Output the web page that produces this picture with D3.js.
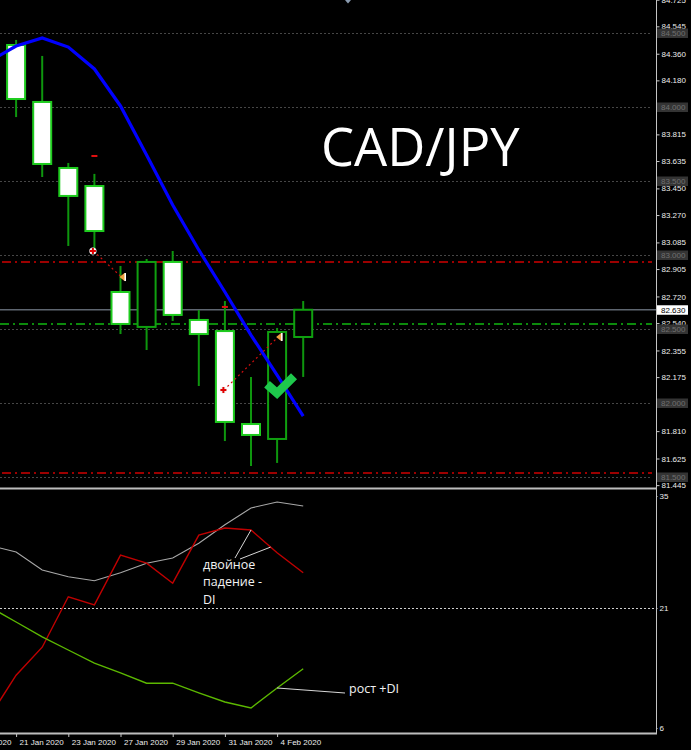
<!DOCTYPE html>
<html lang="en">
  <head>
    <meta charset="UTF-8" />
    <title>CAD/JPY</title>
    <script src="https://d3js.org/d3.v7.min.js"></script>
    <style>
      html, body { margin: 0; padding: 0; background: #000; }
      svg { display: block; }
      .axis text { font-family: "Liberation Sans", Arial, sans-serif; font-size: 8px; fill: #ececec; }
      .axis line { stroke: #c8c8c8; }
      .axis path { display: none; }
    </style>
  </head>
  <body>
    <div id="chart"></div>
    <script>
      // daily bars, 20 Jan 2020 .. 5 Feb 2020 (20 Jan only feeds the lines)
      var dates = ["2020-01-20", "2020-01-21", "2020-01-22", "2020-01-23", "2020-01-24", "2020-01-27",
        "2020-01-28", "2020-01-29", "2020-01-30", "2020-01-31", "2020-02-03", "2020-02-04", "2020-02-05"];
      var open  = [null, 84.419, 84.034, 83.588, 83.466, 82.750, 82.514, 82.953, 82.561, 82.486, 81.858, 81.757, 82.446];
      var high  = [null, 84.453, 84.345, 83.622, 83.548, 82.926, 82.973, 83.027, 82.628, 82.689, 82.176, 82.507, 82.689];
      var low   = [null, 83.932, 83.527, 83.061, 83.027, 82.466, 82.358, 82.554, 82.115, 81.743, 81.574, 81.595, 82.176];
      var close = [null, 84.054, 83.615, 83.399, 83.162, 82.534, 82.953, 82.595, 82.466, 81.872, 81.784, 82.480, 82.630];
      var maLine = [84.311, 84.412, 84.466, 84.405, 84.257, 84.007, 83.676, 83.338, 83.034, 82.750, 82.459, 82.189, 81.912];

      // ADX pane
      var adxMain = [28.8, 28.0, 25.75, 24.9, 24.4, 25.4, 26.6, 27.25, 29.1, 31.4, 33.5, 34.25, 33.75];
      var minusDI = [7.5, 12.6, 16.1, 22.4, 21.4, 27.6, 26.6, 24.1, 30.1, 31.0, 30.75, 27.9, 25.4];
      var plusDI  = [21.1, 19.25, 17.4, 15.75, 14.1, 12.9, 11.6, 11.6, 10.4, 9.25, 8.5, 11.0, 13.4];

      var priceTicks = [84.725, 84.545, 84.360, 84.180, 84.000, 83.815, 83.635, 83.450, 83.270, 83.085,
        82.905, 82.720, 82.540, 82.355, 82.175, 81.990, 81.810, 81.625, 81.445];
      var roundLevels = [84.5, 84.0, 83.5, 83.0, 82.5, 82.0, 81.5];
      var redLevels = [82.953, 81.527];
      var greenLevels = [82.534];
      var lastPrice = 82.630;
      var adxTicks = [35, 21, 6];
      var adxLevel = 21;

      var dateTickIdx = [-1, 1, 3, 5, 7, 9, 11];
      var dateTickText = ["17 Jan 2020", "21 Jan 2020", "23 Jan 2020", "27 Jan 2020", "29 Jan 2020", "31 Jan 2020", "4 Feb 2020"];

      // closed trades: entry / exit
      var trades = [
        { i0: 4, p0: 83.027, i1: 5, p1: 82.851 },
        { i0: 9, p0: 82.088, i1: 11, p1: 82.446 }
      ];
      var stopMarks = [{ i: 4, p: 83.669 }, { i: 9, p: 82.649 }];

      var width = 691, height = 750, plotRight = 656;

      var svg = d3.select("#chart").append("svg")
        .attr("width", width).attr("height", height);

      var defs = svg.append("defs");
      defs.append("clipPath").attr("id", "clipPrice")
        .append("rect").attr("x", 0).attr("y", 0).attr("width", plotRight).attr("height", 487);
      defs.append("clipPath").attr("id", "clipInd")
        .append("rect").attr("x", 0).attr("y", 490).attr("width", plotRight).attr("height", 243);

      var x = d3.scaleLinear().domain([0, 12]).range([-10, -10 + 12 * 26.1]);
      var y = d3.scaleLinear().domain([84.5, 81.5]).range([33, 477]);
      var yi = d3.scaleLinear().domain([35, 6]).range([496, 728]);

      var price = svg.append("g").attr("clip-path", "url(#clipPrice)");

      // grid levels
      price.selectAll("line.level").data(roundLevels).enter().append("line")
        .attr("x1", 0).attr("x2", plotRight - 4)
        .attr("y1", function (d) { return y(d) + 0.5; }).attr("y2", function (d) { return y(d) + 0.5; })
        .attr("stroke", "#464646").attr("stroke-dasharray", "2,2");

      price.selectAll("line.red").data(redLevels).enter().append("line")
        .attr("x1", 2).attr("x2", plotRight - 4)
        .attr("y1", function (d) { return y(d); }).attr("y2", function (d) { return y(d); })
        .attr("stroke", "#d00000").attr("stroke-width", 1.5).attr("stroke-dasharray", "9,4,2,4");

      price.selectAll("line.green").data(greenLevels).enter().append("line")
        .attr("x1", 0).attr("x2", plotRight - 4)
        .attr("y1", function (d) { return y(d); }).attr("y2", function (d) { return y(d); })
        .attr("stroke", "#0c8a0c").attr("stroke-width", 2).attr("stroke-dasharray", "9,4,2,4");

      price.append("line")
        .attr("x1", 0).attr("x2", plotRight)
        .attr("y1", y(lastPrice)).attr("y2", y(lastPrice))
        .attr("stroke", "#5e6670").attr("stroke-width", 1.6);

      // candles
      var bars = dates.map(function (d, i) {
        return { i: i, o: open[i], h: high[i], l: low[i], c: close[i] };
      }).filter(function (d) { return d.o != null; });

      price.selectAll("line.wick").data(bars).enter().append("line")
        .attr("x1", function (d) { return x(d.i); }).attr("x2", function (d) { return x(d.i); })
        .attr("y1", function (d) { return y(d.h); }).attr("y2", function (d) { return y(d.l); })
        .attr("stroke", "#0e960e").attr("stroke-width", 2);

      price.selectAll("rect.body").data(bars).enter().append("rect")
        .attr("x", function (d) { return x(d.i) - 9; })
        .attr("width", 18)
        .attr("y", function (d) { return y(Math.max(d.o, d.c)); })
        .attr("height", function (d) { return Math.max(1, Math.abs(y(d.o) - y(d.c))); })
        .attr("fill", function (d) { return d.c < d.o ? "#ffffff" : "#000000"; })
        .attr("stroke", function (d) { return d.c < d.o ? "#1ecc1e" : "#10a010"; })
        .attr("stroke-width", 2);

      // moving average
      price.append("path")
        .datum(maLine)
        .attr("fill", "none")
        .attr("stroke", "#0000ff")
        .attr("stroke-width", 3.2)
        .attr("d", d3.line().x(function (d, i) { return x(i); }).y(function (d) { return y(d); }));

      // trade history
      price.selectAll("line.trade").data(trades).enter().append("line")
        .attr("x1", function (d) { return x(d.i0) - 1; }).attr("y1", function (d) { return y(d.p0); })
        .attr("x2", function (d) { return x(d.i1) + 1; }).attr("y2", function (d) { return y(d.p1); })
        .attr("stroke", "#d01010").attr("stroke-width", 1.2).attr("stroke-dasharray", "2,3");

      price.selectAll("rect.stop").data(stopMarks).enter().append("rect")
        .attr("x", function (d) { return x(d.i) - 3; }).attr("y", function (d) { return y(d.p) - 1; })
        .attr("width", 6).attr("height", 2).attr("fill", "#e01010");

      var entry = price.selectAll("g.entry").data(trades).enter().append("g")
        .attr("transform", function (d) { return "translate(" + (x(d.i0) - 1.5) + "," + y(d.p0) + ")"; });
      entry.append("circle").attr("r", 3.6).attr("fill", "#f4f4f4");
      entry.append("path").attr("d", "M-3,0H3M0,-3V3").attr("stroke", "#e00000").attr("stroke-width", 2);

      var exitMark = price.selectAll("g.exit").data(trades).enter().append("g")
        .attr("transform", function (d) { return "translate(" + (x(d.i1) + 2) + "," + y(d.p1) + ")"; });
      exitMark.append("path").attr("d", "M-3,0L2,-4L3,-4L3,4L2,4Z").attr("fill", "#f0a040");
      exitMark.append("rect").attr("x", 2).attr("y", -4).attr("width", 1.5).attr("height", 8).attr("fill", "#ffffff");

      // check mark
      var chk = { i: 11.15, p: 82.12 };
      price.append("path")
        .attr("transform", "translate(" + x(chk.i) + "," + y(chk.p) + ")")
        .attr("d", "M-14,-1L-4,8L13,-9")
        .attr("fill", "none").attr("stroke", "#1ec84c").attr("stroke-width", 8.5)
        .attr("stroke-linejoin", "miter");

      price.append("text")
        .attr("x", 321).attr("y", 166)
        .attr("font-family", "'Open Sans', sans-serif").attr("font-size", 52.5)
        .attr("fill", "#ffffff")
        .text("CAD/JPY");

      // ADX pane
      var ind = svg.append("g").attr("clip-path", "url(#clipInd)");
      ind.append("line")
        .attr("x1", 0).attr("x2", plotRight)
        .attr("y1", yi(adxLevel) + 0.5).attr("y2", yi(adxLevel) + 0.5)
        .attr("stroke", "#cfcfcf").attr("stroke-dasharray", "2,2");

      var indLine = d3.line().x(function (d, i) { return x(i); }).y(function (d) { return yi(d); });
      [[adxMain, "#a8a8a8", 1.1], [minusDI, "#c00000", 1.4], [plusDI, "#5cb800", 1.4]].forEach(function (s) {
        ind.append("path").datum(s[0])
          .attr("fill", "none").attr("stroke", s[1]).attr("stroke-width", s[2])
          .attr("d", indLine);
      });

      // annotations
      var note = svg.append("g")
        .attr("font-family", "'Open Sans', sans-serif").attr("font-size", 12.5).attr("fill", "#f2f2f2");
      ["двойное", "падение -", "DI"].forEach(function (t, k) {
        note.append("text").attr("x", 203).attr("y", 568.5 + k * 17.5).text(t);
      });
      note.append("text").attr("x", 349).attr("y", 693).text("рост +DI");

      var pointers = [
        [[235, 558], [x(10), yi(minusDI[10])]],
        [[240, 559], [x(10.75), yi((minusDI[10] + 3 * minusDI[11]) / 4)]],
        [[x(11), yi(plusDI[11])], [345, 693]]
      ];
      pointers.forEach(function (p) {
        svg.append("line")
          .attr("x1", p[0][0]).attr("y1", p[0][1]).attr("x2", p[1][0]).attr("y2", p[1][1])
          .attr("stroke", "#d8d8d8").attr("stroke-width", 1);
      });

      // frame
      svg.append("line").attr("x1", plotRight + 0.5).attr("x2", plotRight + 0.5)
        .attr("y1", 0).attr("y2", 734).attr("stroke", "#c4c4c4");
      svg.append("line").attr("x1", 0).attr("x2", plotRight + 1)
        .attr("y1", 488.5).attr("y2", 488.5).attr("stroke", "#bdbdbd").attr("stroke-width", 2);
      svg.append("line").attr("x1", 0).attr("x2", plotRight + 1)
        .attr("y1", 733.5).attr("y2", 733.5).attr("stroke", "#bdbdbd").attr("stroke-width", 2);
      svg.append("path").attr("d", "M345,0L351,0L348,3.5Z").attr("fill", "#8a9bb0");

      // axes
      svg.append("g").attr("class", "axis")
        .attr("transform", "translate(" + (plotRight + 0.5) + ",0)")
        .call(d3.axisRight(y).tickValues(priceTicks).tickSize(3).tickPadding(2).tickFormat(d3.format(".3f")));

      var lvl = svg.append("g").attr("font-family", "'Liberation Sans', Arial, sans-serif").attr("font-size", 8);
      lvl.selectAll("rect").data(roundLevels).enter().append("rect")
        .attr("x", 657).attr("width", 31)
        .attr("y", function (d) { return y(d) - 4.5; }).attr("height", 9.5)
        .attr("fill", "#343434");
      lvl.selectAll("text").data(roundLevels).enter().append("text")
        .attr("x", 661).attr("y", function (d) { return y(d); }).attr("dy", "0.35em")
        .attr("fill", "#707070").text(d3.format(".3f"));

      lvl.append("rect").attr("x", 657).attr("width", 31)
        .attr("y", y(lastPrice) - 4.5).attr("height", 9.5).attr("fill", "#ffffff");
      lvl.append("text").attr("x", 661).attr("y", y(lastPrice)).attr("dy", "0.35em")
        .attr("fill", "#000000").text(d3.format(".3f")(lastPrice));

      svg.append("g").attr("class", "axis")
        .attr("transform", "translate(" + (plotRight + 0.5) + ",0)")
        .call(d3.axisRight(yi).tickValues(adxTicks).tickSize(1).tickPadding(2).tickFormat(d3.format("d")));

      var xAxis = svg.append("g").attr("class", "axis")
        .attr("transform", "translate(0,734)")
        .call(d3.axisBottom(x).tickValues(dateTickIdx).tickSize(3).tickPadding(2)
          .tickFormat(function (d, i) { return dateTickText[i]; }));
      xAxis.selectAll("text").attr("text-anchor", "start").attr("x", 3);
    </script>
  </body>
</html>
